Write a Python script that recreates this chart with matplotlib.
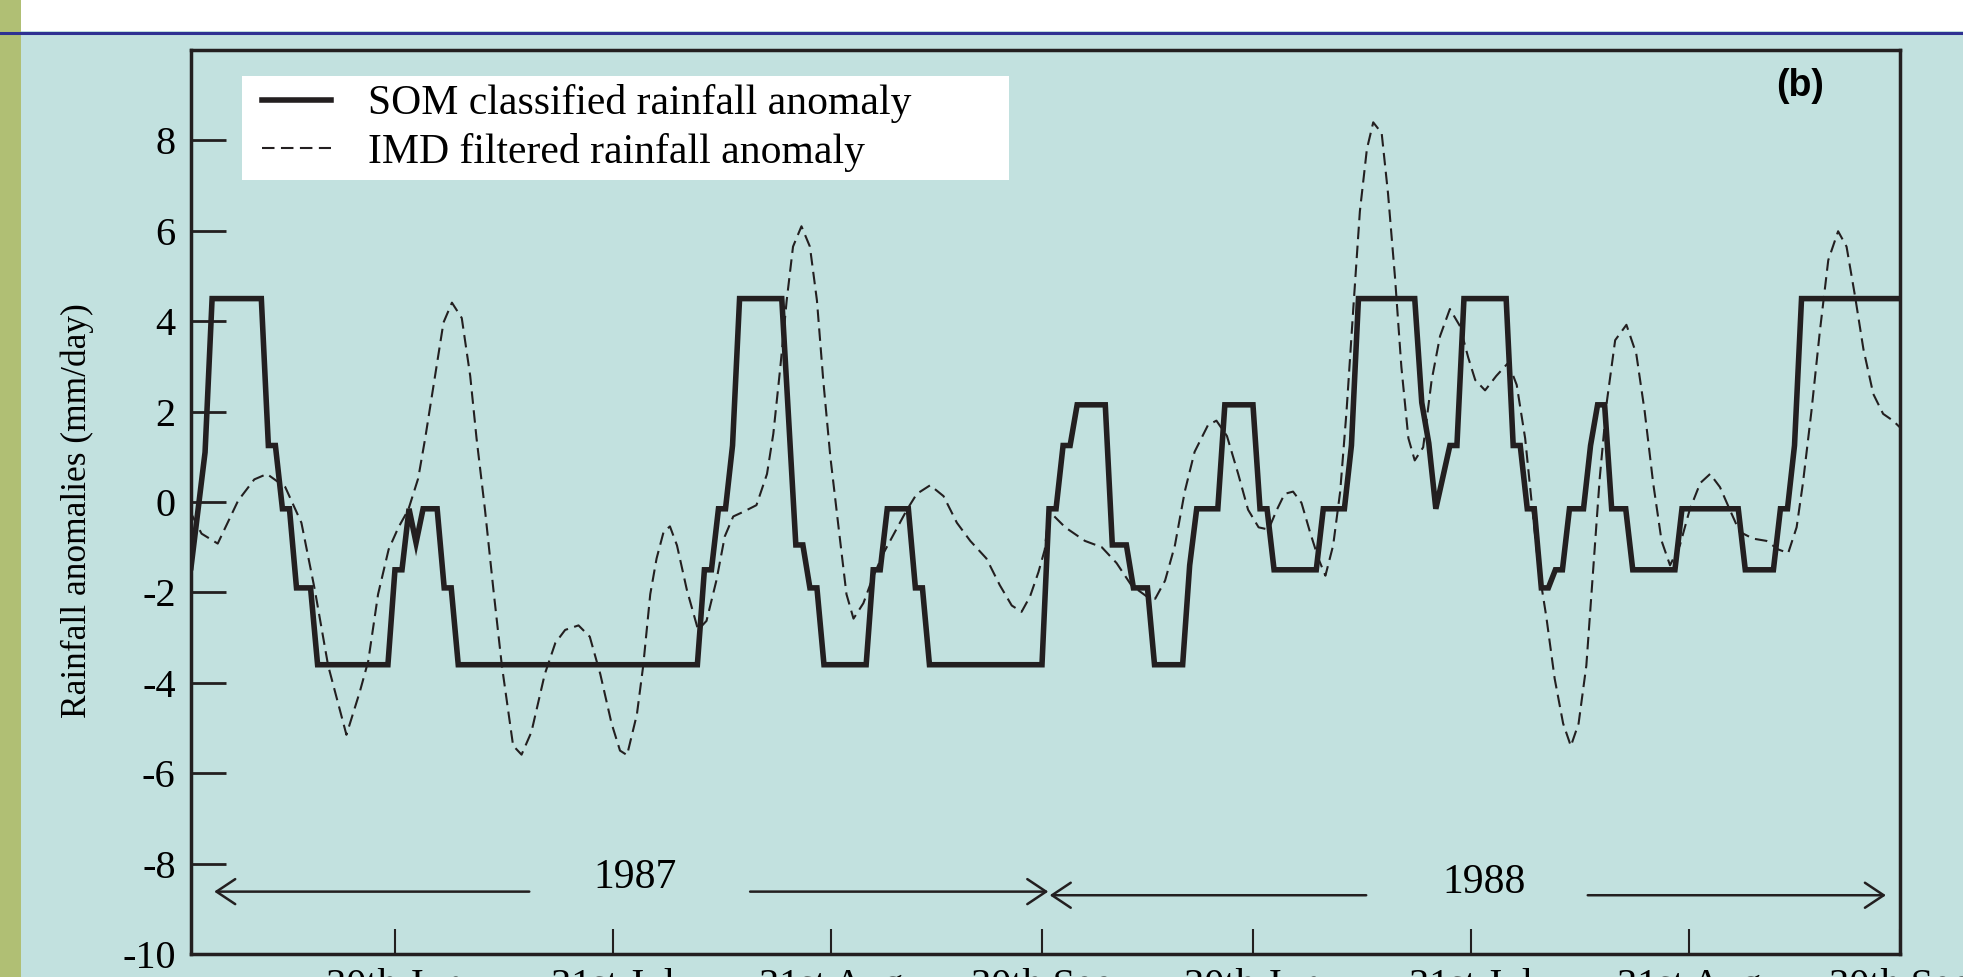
import matplotlib.pyplot as plt
from matplotlib.patches import Rectangle
from matplotlib.lines import Line2D

# day index runs 1..122 for Jun-Sep 1987, then 123..244 for Jun-Sep 1988
som_day = [1, 3, 4, 11, 12, 13, 14, 15, 16, 18, 19, 29, 30, 31, 32, 33, 34, 36, 37, 38,
           39, 73, 74, 75, 76, 77, 78, 79, 85, 87, 88, 89, 90, 91, 97, 98, 99, 100, 103, 104,
           105, 106, 122, 123, 124, 125, 126, 127, 131, 132, 134, 135, 137, 138, 142, 143, 144, 147, 148, 152,
           153, 154, 155, 161, 162, 165, 166, 167, 175, 176, 177, 178, 180, 181, 182, 188, 189, 190, 191, 192,
           193, 194, 195, 196, 197, 199, 200, 201, 202, 203, 205, 206, 212, 213, 221, 222, 226, 227, 228, 229,
           230, 244]
som_val = [-1.45, 1.1, 4.5, 4.5, 1.25, 1.25, -0.15, -0.15, -1.9, -1.9, -3.6, -3.6, -1.5, -1.5, -0.15, -0.9, -0.15, -0.15, -1.9, -1.9,
           -3.6, -3.6, -1.5, -1.5, -0.15, -0.15, 1.25, 4.5, 4.5, -0.95, -0.95, -1.9, -1.9, -3.6, -3.6, -1.5, -1.5, -0.15, -0.15, -1.9,
           -1.9, -3.6, -3.6, -0.15, -0.15, 1.25, 1.25, 2.15, 2.15, -0.95, -0.95, -1.9, -1.9, -3.6, -3.6, -1.4, -0.15, -0.15, 2.15, 2.15,
           -0.15, -0.15, -1.5, -1.5, -0.15, -0.15, 1.25, 4.5, 4.5, 2.2, 1.3, -0.15, 1.25, 1.25, 4.5, 4.5, 1.25, 1.25, -0.15, -0.15,
           -1.9, -1.9, -1.5, -1.5, -0.15, -0.15, 1.25, 2.15, 2.15, -0.15, -0.15, -1.5, -1.5, -0.15, -0.15, -1.5, -1.5, -0.15, -0.15, 1.25,
           4.5, 4.5]

imd_day = [1, 2.5, 4.8, 7.7, 10, 11.8, 14.4, 16.7, 18.6, 20.5, 23.1, 25.0, 26.2, 27.6, 29.1, 30.5, 31.9, 33.3, 34.3, 35.7,
           36.9, 38.1, 39.5, 40.7, 41.6, 42.8, 44.0, 45.2, 46.8, 48.0, 49.4, 51.3, 52.8, 54.2, 56.1, 57.7, 59.2, 60.8, 62.0, 63.0,
           64.4, 65.3, 66.3, 67.2, 68.2, 69.1, 70.1, 71.5, 73.1, 74.3, 75.7, 76.9, 78.1, 79.5, 81.4, 82.9, 83.8, 84.8, 85.7, 86.6,
           87.8, 89.0, 90.0, 90.9, 91.9, 93.0, 94.2, 95.2, 96.6, 98.0, 99.4, 101.1, 102.8, 104.2, 106.1, 108.0, 109.9, 111.8, 114.1, 116.0,
           117.7, 119.1, 120.3, 121.5, 122.4, 123.0, 125.3, 128.1, 130.5, 132.6, 134.7, 136.9, 138.1, 139.5, 140.9, 142.3, 143.7, 145.6, 146.8, 148.3,
           149.9, 151.3, 152.8, 154.2, 155.4, 156.5, 157.7, 158.9, 160.1, 161.3, 162.3, 163.4, 164.4, 165.3, 166.3, 167.2, 168.2, 169.1, 170.3, 171.2,
           172.2, 173.1, 174.1, 175.0, 176.2, 177.4, 178.6, 180.0, 181.4, 182.6, 183.6, 185.0, 186.6, 188.3, 189.5, 190.7, 191.6, 192.6, 193.7, 194.9,
           196.1, 197.2, 198.3, 199.4, 200.4, 201.3, 202.3, 203.5, 205.1, 206.5, 207.7, 208.9, 210.1, 211.3, 212.7, 214.1, 215.6, 217.0, 218.4, 219.8,
           221.2, 223.1, 225.0, 226.7, 228.1, 229.3, 230.2, 231.4, 232.6, 233.8, 235.2, 236.4, 237.6, 238.8, 240.2, 241.6, 243.0, 244.0]
imd_val = [-0.25, -0.7, -0.92, 0.03, 0.5, 0.62, 0.33, -0.46, -1.94, -3.62, -5.15, -4.2, -3.52, -2.04, -1.05, -0.56, -0.17, 0.52, 1.41, 2.79,
           3.97, 4.41, 4.07, 2.79, 1.41, -0.17, -1.94, -3.62, -5.39, -5.59, -5.09, -3.81, -3.12, -2.83, -2.73, -2.98, -3.81, -4.9, -5.5, -5.6,
           -4.7, -3.62, -2.04, -1.25, -0.66, -0.54, -0.96, -1.94, -2.83, -2.63, -1.74, -0.76, -0.32, -0.22, -0.07, 0.62, 1.51, 2.99, 4.46, 5.65,
           6.1, 5.65, 4.46, 2.69, 1.01, -0.46, -2.04, -2.58, -2.24, -1.65, -1.15, -0.66, -0.17, 0.18, 0.37, 0.13, -0.46, -0.86, -1.25, -1.84,
           -2.29, -2.43, -2.09, -1.55, -1.05, -0.2, -0.56, -0.86, -1.0, -1.35, -1.84, -2.09, -2.14, -1.74, -0.96, 0.23, 1.11, 1.7, 1.8, 1.46,
           0.62, -0.17, -0.56, -0.61, -0.17, 0.18, 0.23, -0.02, -0.66, -1.25, -1.63, -0.96, 0.23, 2.0, 4.36, 6.43, 7.81, 8.4, 8.16, 6.83,
           4.96, 2.99, 1.41, 0.92, 1.21, 2.69, 3.67, 4.27, 3.9, 3.2, 2.7, 2.47, 2.79, 3.08, 2.59, 1.41, 0.03, -1.45, -2.53, -3.91,
           -4.9, -5.4, -4.9, -3.62, -1.45, 0.52, 2.2, 3.58, 3.92, 3.28, 2.0, 0.42, -0.86, -1.4, -0.96, -0.17, 0.42, 0.62, 0.33, -0.17,
           -0.66, -0.81, -0.86, -1.05, -1.13, -0.56, 0.42, 2.0, 3.77, 5.35, 5.99, 5.65, 4.56, 3.38, 2.39, 1.95, 1.8, 1.65]

tick_days = [30, 61, 92, 122, 152, 183, 214, 244]
tick_labels = ["30th Jun", "31st Jul", "31st Aug", "30th Sep"] * 2
y_ticks = list(range(-10, 9, 2))

years = ["1987", "1988"]
year_text_x = [64.1, 184.8]
year_text_y = [-8.32, -8.43]
year_arrow_y = [-8.62, -8.7]
# each arrow: (tail day, head day)
year_arrows = [[(49.1, 4.3), (80.5, 122.9)],
               [(168.1, 123.1), (199.6, 242.0)]]

TEAL = "#C2E1DF"
GREEN = "#B0BF74"
NAVY = "#2E3192"
INK = "#231F20"

plt.rcParams["font.family"] = ["Liberation Serif", "DejaVu Serif"]
plt.rcParams["axes.unicode_minus"] = False

W, H = 1963, 977
fig = plt.figure(figsize=(W / 100, H / 100), dpi=100, facecolor=TEAL)

# slide furniture around the chart
fig.add_artist(Rectangle((0, 1 - 31 / H), 1, 31 / H, transform=fig.transFigure,
                         facecolor="white", edgecolor="none"))
fig.add_artist(Line2D([0, 1], [1 - 32.5 / H] * 2, transform=fig.transFigure,
                      color=NAVY, lw=2.2))
fig.add_artist(Rectangle((0, 0), 21 / W, 1, transform=fig.transFigure,
                         facecolor=GREEN, edgecolor="none"))

ax = fig.add_axes([191 / W, 23 / H, 1709 / W, 904 / H])
ax.set_facecolor("none")

imd_line, = ax.plot(imd_day, imd_val, color=INK, lw=1.5, linestyle=(0, (6, 3.1)))
som_line, = ax.plot(som_day, som_val, color=INK, lw=4, solid_joinstyle="miter")

ax.set_xlim(1, 244)
ax.set_ylim(-10, 10)
ax.set_xticks(tick_days, tick_labels)
ax.set_yticks(y_ticks)
ax.tick_params(axis="y", direction="in", length=25, width=2, pad=11,
               labelsize=29, colors=INK, labelcolor="black")
ax.tick_params(axis="x", direction="in", length=18, width=1.5, pad=10,
               labelsize=29, colors=INK, labelcolor="black")
for sp in ax.spines.values():
    sp.set_linewidth(2.5)
    sp.set_color(INK)

ax.set_ylabel("Rainfall anomalies (mm/day)", fontsize=25.5)
ax.yaxis.set_label_coords(-0.057, 0.49)

# white legend panel, legend itself drawn without frame on top of it
ax.add_patch(Rectangle((0.0298, 0.8562), 0.4488, 0.115, transform=ax.transAxes,
                       facecolor="white", edgecolor="none", zorder=4))
leg = ax.legend([som_line, imd_line],
                ["SOM classified rainfall anomaly", "IMD filtered rainfall anomaly"],
                loc="upper left", bbox_to_anchor=(0.0415, 0.962),
                borderaxespad=0, borderpad=0, frameon=False, fontsize=30,
                handlelength=1.65, handletextpad=0.9, labelspacing=0.22)
leg.set_zorder(5)

for i, yr in enumerate(years):
    ax.text(year_text_x[i], year_text_y[i], yr, ha="center", va="center", fontsize=30)
    for tail, head in year_arrows[i]:
        ax.annotate("", xy=(head, year_arrow_y[i]), xytext=(tail, year_arrow_y[i]),
                    arrowprops=dict(arrowstyle="->,head_length=0.45,head_width=0.3",
                                    lw=1.8, color=INK, mutation_scale=30,
                                    shrinkA=0, shrinkB=0))

ax.text(0.9415, 0.960, "(b)", transform=ax.transAxes, ha="center", va="center",
        fontsize=27, fontweight="bold", family="Liberation Sans")

fig.savefig("out.png", dpi=100, facecolor=TEAL)
